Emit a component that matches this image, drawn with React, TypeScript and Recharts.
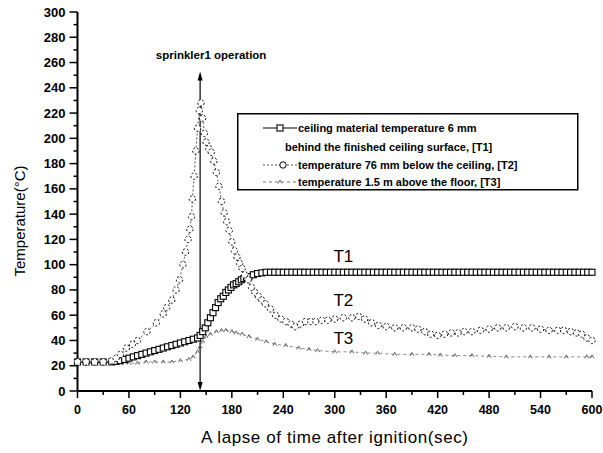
import React from 'react';
import { LineChart, Line, XAxis, YAxis, ReferenceLine, ReferenceDot, Legend } from 'recharts';

// ---- data ----
const t1Time = [0,10,20,30,40,45,50,55,60,65,70,75,80,85,90,95,100,105,110,115,120,125,130,135,140,143,146,149,152,155,158,161,164,167,170,173,176,179,182,185,188,191,194,197,200,205,210,215,220,225,230,235,240,245,250,255,260,265,270,275,280,285,290,295,300,305,310,315,320,325,330,335,340,345,350,355,360,365,370,375,380,385,390,395,400,405,410,415,420,425,430,435,440,445,450,455,460,465,470,475,480,485,490,495,500,505,510,515,520,525,530,535,540,545,550,555,560,565,570,575,580,585,590,595,600];
const t1Temp = [23,23,23,23,23,23.5,24,25,26,27,28,29,30,31,32,33,34,35,36,37,38,39,40,41,42,44,47,50,54,58,62,66,70,73,75,78,80,82,84,85,86.5,88,89,90,90.5,92,93,93.5,94,94,94,94,94,94,94,94,94,94,94,94,94,94,94,94,94,94,94,94,94,94,94,94,94,94,94,94,94,94,94,94,94,94,94,94,94,94,94,94,94,94,94,94,94,94,94,94,94,94,94,94,94,94,94,94,94,94,94,94,94,94,94,94,94,94,94,94,94,94,94,94,94,94,94,94,94];

const t2Time = [0,10,20,30,40,45,50,57,64,70,81,92,100,104,110,115,119,123,126,129,131,133,134,136,138,140,142,144,146,148,150,153,156,159,162,165,168,171,174,177,180,183,186,189,192,195,199,203,207,211,215,219,225,231,237,243,249,254,260,266,272,278,285,292,300,310,320,328,335,343,351,360,370,380,390,397,405,412,420,428,436,444,451,460,470,480,490,500,510,520,530,540,550,560,567,575,582,588,594,600];
const t2Temp = [23,23,23,23,24,26,29,34,37,40,47,54,61,66,72,80,88,100,110,120,128,138,152,170,190,208,222,228,216,204,197,192,189,182,173,162,150,141,134,127,118,111,106,101,97,92,88,82,78,75,72,69,65,60,57,55,53,51,53,55,55,55,56,56,57,58,58,59,57,54,52,51,50,50,50,49,47,45,44,45,46,46,47,47,48,49,50,50,51,50,50,49,48,48,48,47,46,45,42,40];

const t3Time = [0,10,20,30,40,50,60,70,80,90,100,110,120,130,135,140,143,146,150,155,162,168,173,180,185,192,200,210,220,230,243,258,270,280,300,320,336,350,370,390,410,423,440,460,480,500,528,550,570,594,600];
const t3Temp = [22,22,22,22,22,22,22,22,23,23,23,23,24,25,27,31,35,39,43,45,47,48,48,47,46,45,43,41,39,37,36,34,33,32,31,31,30,30,29,29,29,28.5,28,28,27.5,27,27,27,27,27,27];

const xTicks = [0,30,60,90,120,150,180,210,240,270,300,330,360,390,420,450,480,510,540,570,600];
const yTicks = [0,10,20,30,40,50,60,70,80,90,100,110,120,130,140,150,160,170,180,190,200,210,220,230,240,250,260,270,280,290,300];

const sprinklerTime = 143;
const sprinklerTop = 253;

const legendLines = [
  'ceiling material temperature 6 mm',
  'behind the finished ceiling surface, [T1]',
  'temperature 76 mm below the ceiling, [T2]',
  'temperature 1.5 m above the floor, [T3]',
];

const seriesLabels = [
  { name: 'T1', x: 310, y: 107 },
  { name: 'T2', x: 310, y: 72 },
  { name: 'T3', x: 310, y: 42 },
];

const zip = (xs: number[], ys: number[]) => xs.map((x, i) => ({ x, y: ys[i] }));
const t1Data = zip(t1Time, t1Temp);
const t2Data = zip(t2Time, t2Temp);
const t3Data = zip(t3Time, t3Temp);

const FONT = '"Liberation Sans", Arial, sans-serif';

const BottomTick = (p: any) => {
  const { x, y, payload } = p;
  const v = payload.value;
  const major = v % 60 === 0;
  return (
    <g>
      <line x1={x} y1={y} x2={x} y2={y + (major ? 7 : 4)} stroke="#000" strokeWidth={1.5} />
      {major && (
        <text x={x} y={y + 23} textAnchor="middle" fontSize={12.5} fontWeight="bold" fill="#000" fontFamily={FONT}>{v}</text>
      )}
    </g>
  );
};
const TopTick = (p: any) => {
  const { x, y, payload } = p;
  const major = payload.value % 60 === 0;
  return <line x1={x} y1={y} x2={x} y2={y + (major ? 7 : 4)} stroke="#000" strokeWidth={1.5} />;
};
const LeftTick = (p: any) => {
  const { x, y, payload } = p;
  const v = payload.value;
  const major = v % 20 === 0;
  return (
    <g>
      <line x1={x} y1={y} x2={x - (major ? 8 : 4)} y2={y} stroke="#000" strokeWidth={1.5} />
      {major && (
        <text x={x - 12} y={y + 4.5} textAnchor="end" fontSize={13} fontWeight="bold" fill="#000" fontFamily={FONT}>{v}</text>
      )}
    </g>
  );
};
const RightTick = (p: any) => {
  const { x, y, payload } = p;
  const major = payload.value % 20 === 0;
  return <line x1={x} y1={y} x2={x - (major ? 8 : 4)} y2={y} stroke="#000" strokeWidth={1.5} />;
};

const SquareDot = (p: any) => {
  const { cx, cy, index } = p;
  return <rect key={'s' + index} x={cx - 3} y={cy - 3} width={6} height={6} fill="#fff" stroke="#000" strokeWidth={1.1} />;
};
const TriDot = (p: any) => {
  const { cx, cy, index } = p;
  return <path key={'t' + index} d={`M${cx - 2},${cy + 1.5} L${cx},${cy - 2} L${cx + 2},${cy + 1.5}`} fill="none" stroke="#666" strokeWidth={1} />;
};

const ArrowShape = (p: any) => {
  const { x1, y1, y2 } = p;
  const top = Math.min(y1, y2);
  const bot = Math.max(y1, y2);
  return (
    <g>
      <line x1={x1} y1={top + 6} x2={x1} y2={bot - 6} stroke="#000" strokeWidth={1.2} />
      <path d={`M${x1},${top} L${x1 - 2.5},${top + 9} L${x1 + 2.5},${top + 9} Z`} fill="#000" />
      <path d={`M${x1},${bot} L${x1 - 2.5},${bot - 9} L${x1 + 2.5},${bot - 9} Z`} fill="#000" />
      <text x={x1 + 11} y={top - 12.5} textAnchor="middle" fontSize={11.5} fontWeight="bold" fill="#000" fontFamily={FONT}>sprinkler1 operation</text>
    </g>
  );
};

const LegendBox = () => (
  <svg width={342} height={78} style={{ display: 'block' }}>
    <rect x={0.75} y={0.75} width={340} height={76} fill="#fff" stroke="#000" strokeWidth={1.5} />
    <line x1={26} y1={15} x2={60} y2={15} stroke="#000" strokeWidth={1} />
    <rect x={40} y={12} width={6} height={6} fill="#fff" stroke="#000" strokeWidth={1.1} />
    <line x1={26} y1={52} x2={60} y2={52} stroke="#555" strokeWidth={1} strokeDasharray="2 2" />
    <circle cx={46} cy={52} r={3.2} fill="#fff" stroke="#000" strokeWidth={1} />
    <line x1={26} y1={69} x2={60} y2={69} stroke="#777" strokeWidth={1} strokeDasharray="3 3" />
    <path d="M41,70.5 L43,67 L45,70.5" fill="none" stroke="#666" strokeWidth={1} />
    <g fontFamily={FONT} fontSize={11} fontWeight="bold" fill="#000">
      <text x={61} y={19}>{legendLines[0]}</text>
      <text x={48} y={38}>{legendLines[1]}</text>
      <text x={61} y={56}>{legendLines[2]}</text>
      <text x={61} y={73}>{legendLines[3]}</text>
    </g>
  </svg>
);

export default function App() {
  return (
    <div style={{ position: 'absolute', left: 0, top: 0, width: 603, height: 453, overflow: 'hidden', fontFamily: FONT }}>
      <LineChart width={603} height={453} margin={{ top: 12, right: 11, bottom: 0, left: 0 }}>
        <XAxis
          dataKey="x" type="number" domain={[0, 600]} ticks={xTicks} interval={0}
          tickSize={0} tickMargin={0} tickLine={false} tick={BottomTick} height={62}
          axisLine={{ stroke: '#000', strokeWidth: 2 }}
          label={{
            content: (lp: any) => {
              const vb = lp.viewBox;
              return (
                <text x={vb.x + vb.width / 2} y={vb.y + 52} textAnchor="middle" fontSize={17} letterSpacing={0.6} fill="#000" fontFamily={FONT}>
                  A lapse of time after ignition(sec)
                </text>
              );
            },
          }}
        />
        <XAxis
          xAxisId="top" orientation="top" dataKey="x" type="number" domain={[0, 600]} ticks={xTicks} interval={0}
          tickSize={0} tickMargin={0} tickLine={false} tick={TopTick} height={0}
          axisLine={{ stroke: '#000', strokeWidth: 2 }}
        />
        <YAxis
          type="number" domain={[0, 300]} ticks={yTicks} interval={0} width={77.5}
          tickSize={0} tickMargin={0} tickLine={false} tick={LeftTick}
          axisLine={{ stroke: '#000', strokeWidth: 2 }}
          label={{
            content: () => {
              const cx = 25;
              const cy = 221;
              return (
                <text x={cx} y={cy} transform={`rotate(-90 ${cx} ${cy})`} textAnchor="middle" fontSize={15} fill="#000" fontFamily={FONT}>
                  Temperature(°C)
                </text>
              );
            },
          }}
        />
        <YAxis
          yAxisId="right" orientation="right" type="number" domain={[0, 300]} ticks={yTicks} interval={0} width={0}
          tickSize={0} tickMargin={0} tickLine={false} tick={RightTick}
          axisLine={{ stroke: '#000', strokeWidth: 2 }}
        />
        <Line data={t3Data} dataKey="y" stroke="#888" strokeWidth={1} strokeDasharray="3 3" dot={TriDot} isAnimationActive={false} />
        <Line data={t1Data} dataKey="y" stroke="#000" strokeWidth={1.2} dot={SquareDot} isAnimationActive={false} />
        <Line data={t2Data} dataKey="y" stroke="#555" strokeWidth={1} strokeDasharray="2 2" dot={{ r: 3.2, fill: '#fff', stroke: '#000', strokeWidth: 1 }} isAnimationActive={false} />
        <ReferenceLine segment={[{ x: sprinklerTime, y: 0 }, { x: sprinklerTime, y: sprinklerTop }]} shape={ArrowShape} />
        {seriesLabels.map((s) => (
          <ReferenceDot key={s.name} x={s.x} y={s.y} r={0} stroke="none" fill="none"
            label={{ value: s.name, position: 'center', fontSize: 17, fill: '#000', fontFamily: FONT }} />
        ))}
        <Legend layout="vertical" align="center" verticalAlign="middle" content={LegendBox}
          wrapperStyle={{ position: 'absolute', top: 113, left: 237, width: 342, height: 78 }} />
      </LineChart>
    </div>
  );
}
